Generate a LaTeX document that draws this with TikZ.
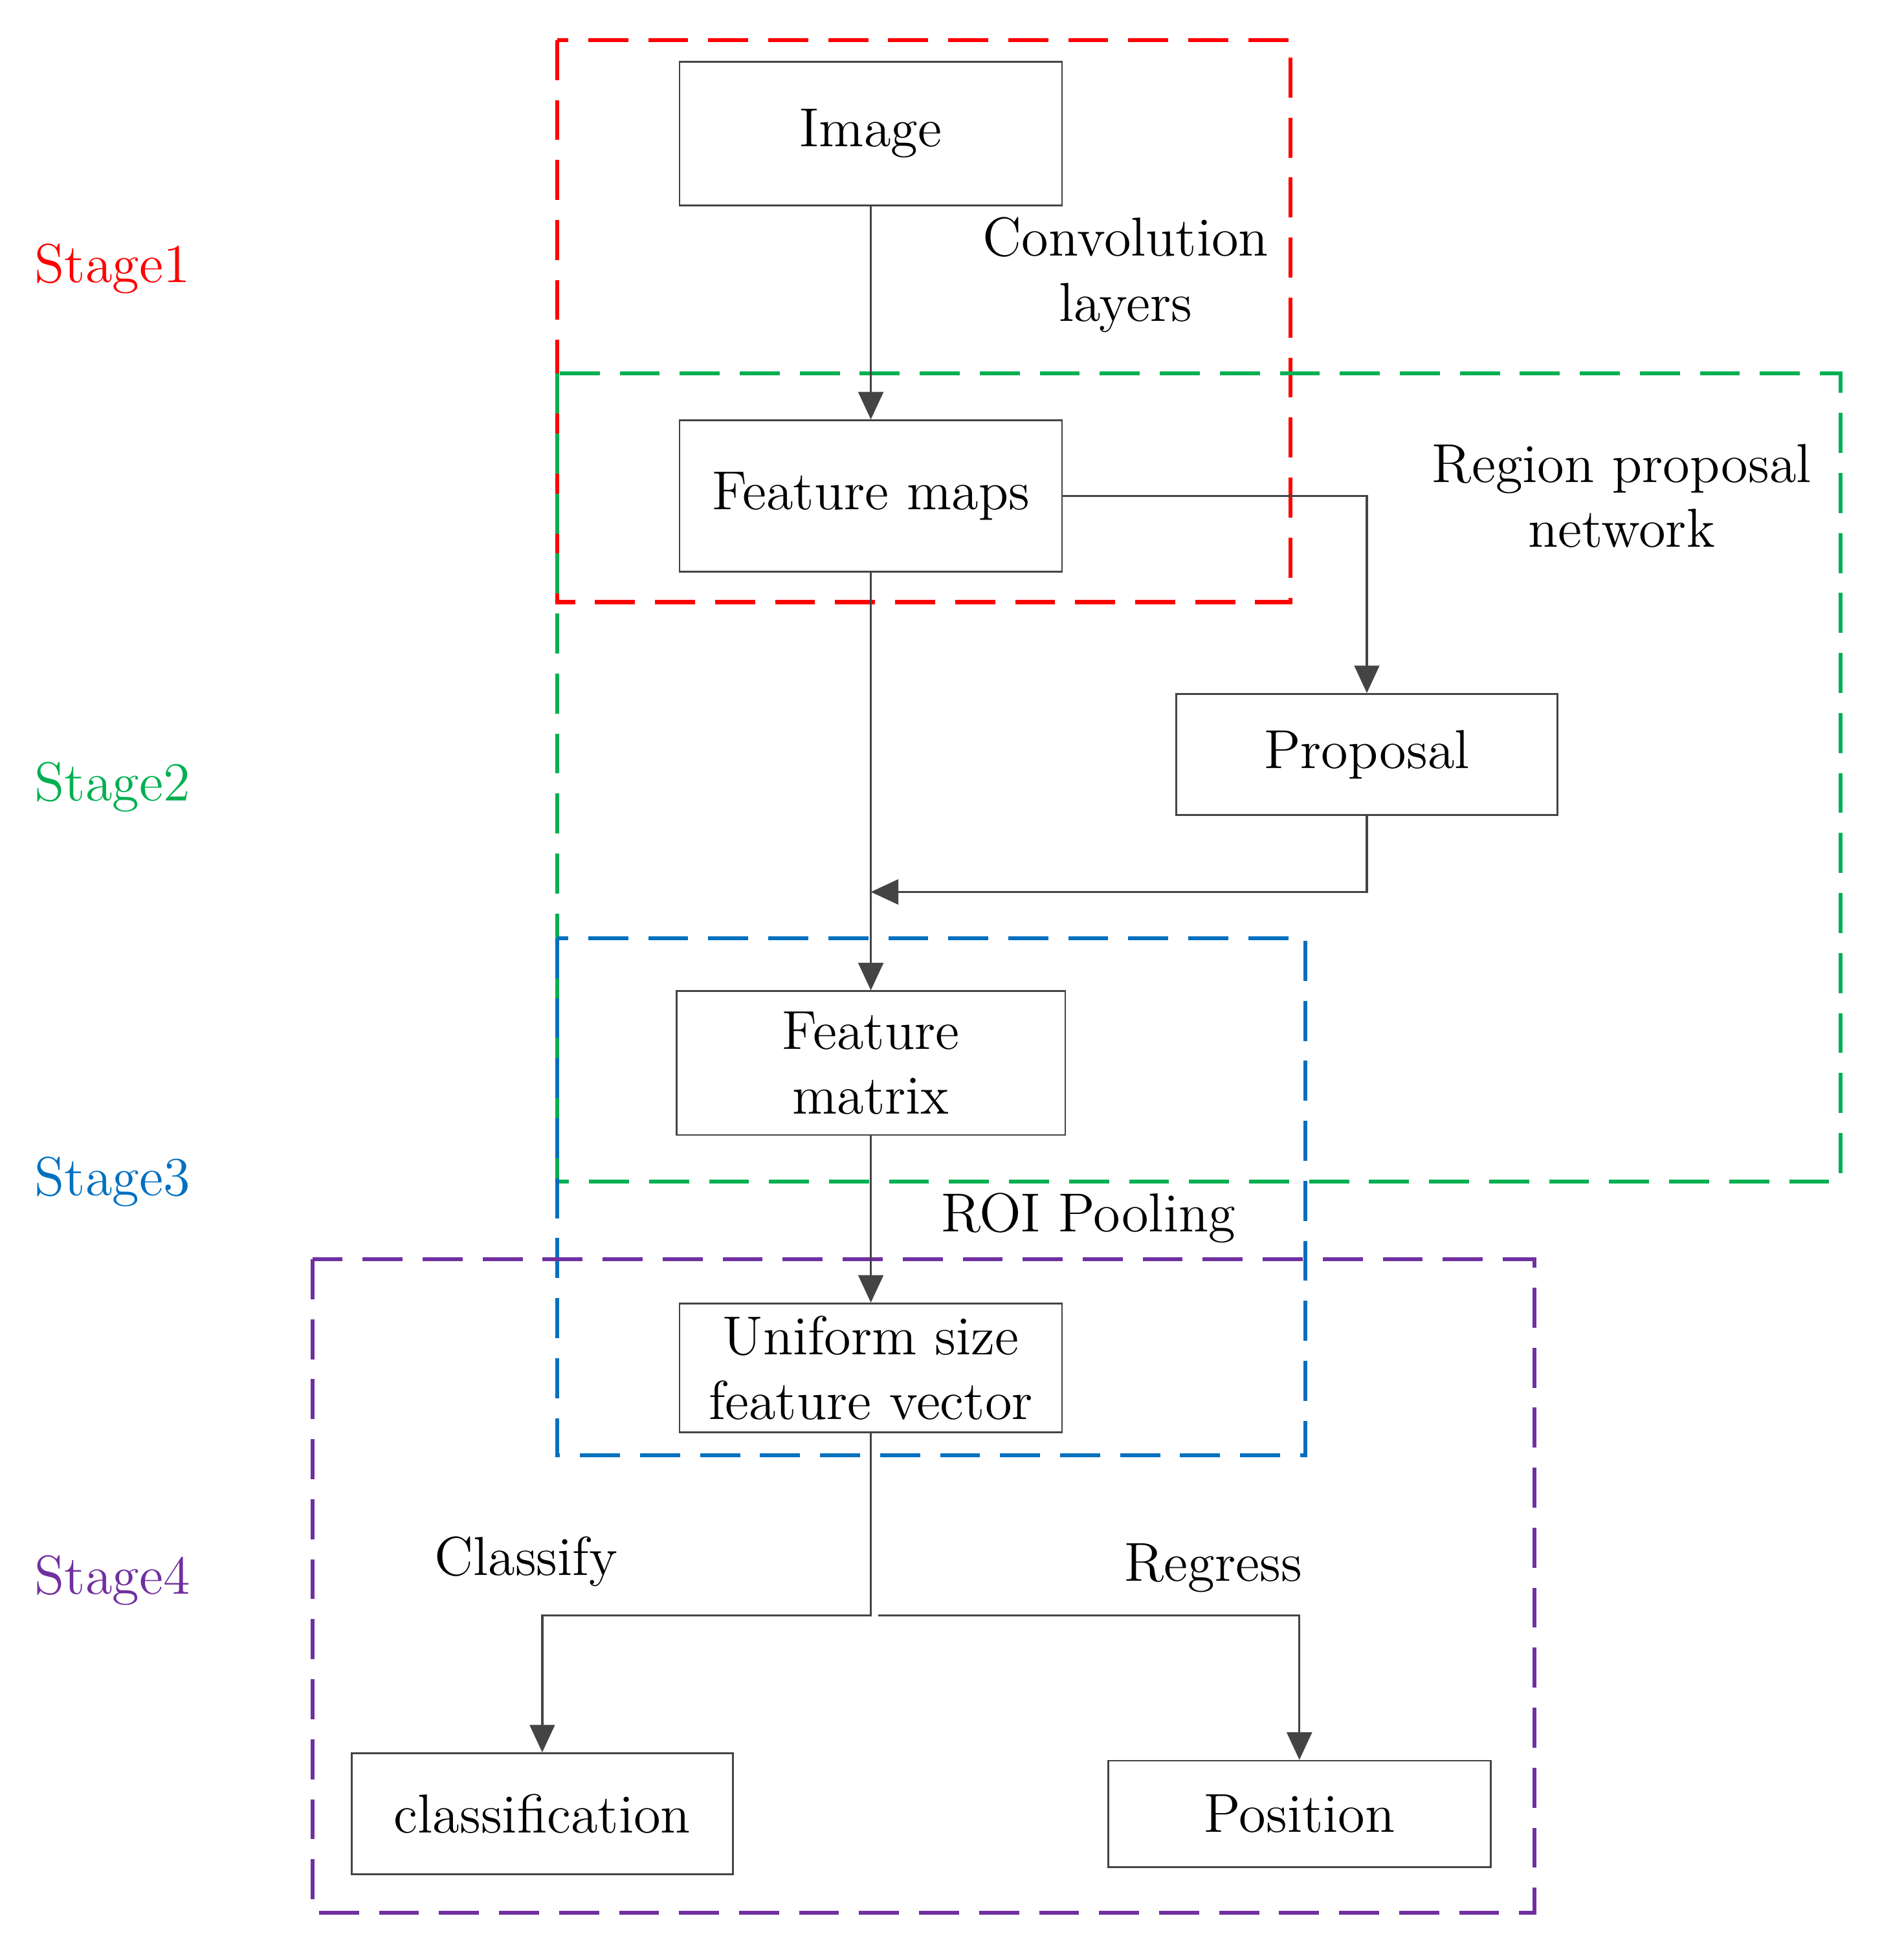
\documentclass[tikz,border=0pt]{standalone}
\usetikzlibrary{arrows.meta}
\definecolor{cR}{HTML}{FF0000}\definecolor{cG}{HTML}{00B050}
\definecolor{cB}{HTML}{0070C0}\definecolor{cP}{HTML}{7030A0}
\definecolor{ln}{HTML}{444444}
\begin{document}
\begin{tikzpicture}[x=0.01cm,y=-0.01cm,
  every node/.style={font=\fontsize{12.5}{14.8}\selectfont},
  box/.style={draw=ln,line width=0.4pt,inner sep=0pt},
  grp/.style={line width=0.9pt,dash pattern=on 0.32cm off 0.16cm},
  con/.style={draw=ln,line width=0.5pt},
  arr/.style={con,-{Triangle[length=0.22cm,width=0.2cm]}},
  lab/.style={align=center}]
\useasboundingbox (0,0) rectangle (1506,1569);
\draw[grp,cR] (446,32) rectangle (1033,482);
\draw[grp,cG] (446,299) rectangle (1473,946);
\draw[grp,cB] (446,751) rectangle (1045,1165);
\draw[grp,cP] (250,1008) rectangle (1228,1531);
\node[box,minimum width=3.06cm,minimum height=1.15cm] (img) at (697,107) {Image};
\node[box,minimum width=3.06cm,minimum height=1.21cm] (fm) at (697,397) {Feature maps};
\node[box,minimum width=3.05cm,minimum height=0.97cm] (prop) at (1094,604) {Proposal};
\node[box,minimum width=3.11cm,minimum height=1.15cm,lab] (fmat) at (697,851) {Feature\\matrix};
\node[box,minimum width=3.06cm,minimum height=1.03cm,lab] (uni) at (697,1095) {Uniform size\\feature vector};
\node[box,minimum width=3.05cm,minimum height=0.97cm] (cls) at (434,1452) {classification};
\node[box,minimum width=3.06cm,minimum height=0.85cm] (pos) at (1040,1452) {Position};
\node[cR] (s1) at (90,215) {Stage1};
\node[cG] (s2) at (90,630) {Stage2};
\node[cB] (s3) at (90,946) {Stage3};
\node[cP] (s4) at (90,1265) {Stage4};
\node[lab] (conv) at (901,220) {Convolution\\layers};
\node[lab] (rpn) at (1298,397) {Region proposal\\network};
\node (roi) at (871,975) {ROI Pooling};
\node (clf) at (421,1250) {Classify};
\node (reg) at (971,1255) {Regress};
\coordinate (m) at (697,714);
\coordinate (j1) at (697,1293);
\coordinate (j2) at (703,1293);
\draw[arr] (img) -- (fm);
\draw[arr] (fm.east) -| (prop.north);
\draw[arr] (prop.south) |- (m);
\draw[arr] (fm) -- (fmat);
\draw[arr] (fmat) -- (uni);
\draw[arr] (uni.south) -- (j1) -| (cls.north);
\draw[arr] (j2) -| (pos.north);
\end{tikzpicture}
\end{document}
